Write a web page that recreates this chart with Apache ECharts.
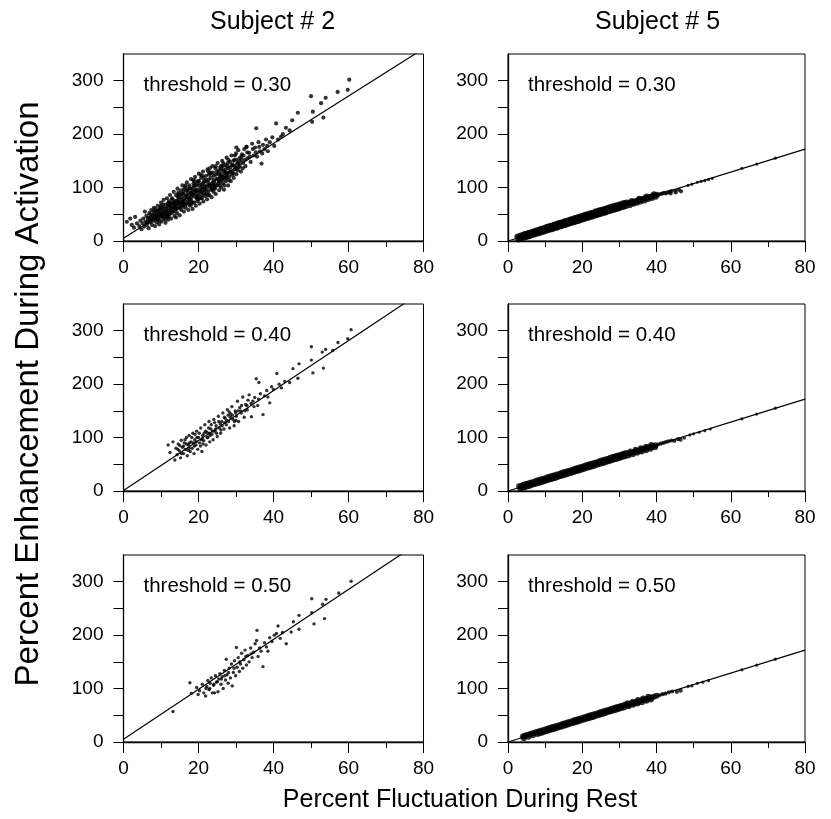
<!DOCTYPE html>
<html>
<head>
<meta charset="utf-8">
<script src="https://cdn.jsdelivr.net/npm/echarts@6/dist/echarts.min.js"></script>
<style>html,body{margin:0;padding:0;background:#fff;}#c{width:831px;height:819px;}</style>
</head>
<body>
<div id="c"></div>
<script>
// ---------- tick labels ----------
const xTicks = [0, 20, 40, 60, 80];
const yTicks = [0, 100, 200, 300];
const colTitles = ['Subject # 2', 'Subject # 5'];
const rowLabels = ['threshold = 0.30', 'threshold = 0.40', 'threshold = 0.50'];
const xTitle = 'Percent Fluctuation During Rest';
const yTitle = 'Percent Enhancement During Activation';

// ---------- Subject #2 data ----------
const s2t30 = [
[0.9,36],[2.2,30],[3.1,45],[5.7,55],[1.8,42],[2.8,25],[3.6,33],
[4.2,28],[4.5,38],[4.8,22],[5.1,33],[5.3,42],[5.5,27],[5.9,36],[6.1,47],[6.2,30],[6.5,40],[6.7,24],[6.9,52],
[7.1,35],[7.3,44],[7.4,58],[7.6,30],[7.8,48],[8.0,38],[8.1,62],[8.3,43],[8.4,28],[8.6,55],[8.8,35],[8.9,48],[9.1,66],[9.2,40],[9.4,52],[9.5,31],[9.7,60],[9.9,45],
[10.0,72],[10.1,36],[10.3,55],[10.4,64],[10.6,42],[10.7,77],[10.9,50],[11.0,60],[11.2,34],[11.3,68],[11.5,47],[11.6,80],[11.7,56],[11.9,40],[12.0,63],[12.1,74],[12.3,50],[12.4,86],[12.6,58],[12.7,42],[12.9,70],
[13.0,80],[13.1,54],[13.3,64],[13.4,92],[13.6,47],[13.7,75],[13.9,60],[14.0,86],[14.1,68],[14.3,52],[14.4,98],[14.6,78],[14.7,63],[14.9,88],[15.0,48],[15.1,72],[15.3,95],[15.4,58],[15.6,82],[15.7,104],[15.9,67],
[16.0,90],[16.1,55],[16.3,76],[16.4,100],[16.6,62],[16.7,85],[16.9,110],[17.0,70],[17.1,94],[17.3,58],[17.4,80],[17.6,104],[17.7,66],[17.9,90],[18.0,116],[18.1,75],[18.3,98],[18.4,60],[18.6,85],[18.7,108],[18.9,72],
[19.0,95],[19.1,120],[19.3,66],[19.4,82],[19.6,104],[19.7,75],[19.9,112],[20.0,90],[20.1,126],[20.3,70],[20.4,98],[20.6,80],[20.7,118],[20.9,106],[21.0,86],[21.2,130],[21.3,74],[21.5,96],[21.6,112],[21.8,84],
[22.0,122],[22.1,102],[22.3,78],[22.4,134],[22.6,92],[22.7,115],[22.9,86],[23.0,106],[23.2,128],[23.4,96],[23.5,82],[23.7,140],[23.8,110],[24.0,92],[24.1,122],[24.3,100],[24.5,136],[24.6,88],[24.8,116],
[25.0,104],[25.1,146],[25.3,126],[25.5,95],[25.6,112],[25.8,138],[26.0,100],[26.1,122],[26.3,150],[26.5,108],[26.6,132],[26.8,96],[27.0,118],[27.1,142],[27.3,112],[27.5,156],[27.7,126],[27.9,104],
[28.0,136],[28.2,120],[28.4,148],[28.6,112],[28.8,160],[29.0,130],[29.2,142],[29.4,118],[29.6,152],[29.8,134],[30.0,164],[30.1,125],[30.3,145],[30.6,170],[30.8,138],[31.0,155],
[31.3,130],[31.6,162],[31.9,146],[32.2,172],[32.5,140],[32.8,176],[33.1,155],[33.5,165],[33.9,148],[34.3,182],[34.7,160],[35.1,175],[35.4,211],[35.6,158],[36.0,185],[36.4,168],[36.8,145],[37.2,180],[37.6,172],[38.0,190],[38.5,168],[39.0,185],[39.7,194],[40.2,178],[40.7,220],[41.2,190],[42.0,195],[42.5,200],[43.3,212],[44.3,207],[45.0,226],[46.5,240],
[50.0,271],[60.2,302],[59.8,283],[57.1,279],[53.9,268],[52.7,258],[50.5,242],[53.3,231],[50.3,223],[30.1,175],[32.8,176],
[6.4,34],[7.0,40],[7.7,44],[8.2,50],[8.7,42],[9.0,56],[9.3,46],[9.6,38],[10.2,50],[10.5,58],[10.8,46],[11.1,54],[11.4,62],[11.8,50],[12.2,57],[12.5,68],[12.8,62],[13.2,58],[13.5,70],[13.8,66],[14.2,60],[14.5,74],[14.8,82],[15.2,66],[15.5,77],[15.8,88],[16.2,70],[16.5,82],[16.8,94],[17.2,75],[17.5,88],[17.8,98],[18.2,82],[18.5,92],[18.8,102],[19.2,88],[19.5,96],[19.8,108],[20.2,84],[20.5,104],[20.8,92],[21.1,100],[21.4,118],[21.7,104],[22.2,96],[22.5,110],[22.8,124],[23.1,100],[23.3,118],[23.6,104],[23.9,128],[24.2,110],[24.4,98],[24.7,124],[25.2,116],[25.4,132],[25.7,104],[25.9,126],[26.2,114],[26.4,140],[26.7,120],[26.9,128],[27.2,134],[27.4,118],[27.8,146],[28.1,128],[28.5,138],[28.9,124],[29.3,150],[29.7,140],[30.2,152],[30.5,132],[30.9,148],[31.4,158],[31.8,136],[32.4,152],[33.0,166],[33.7,158],[34.5,172],[35.3,166],[36.2,176],[37.0,164],[38.3,178],[14.0,44],[16.0,64],[18.0,68],[12.0,46],[20.0,78],[22.0,88],[24.0,104],[26.0,140],[28.0,152],[10.0,66],[8.5,60],[19.0,112],[21.0,122],[23.0,136],
[6.6,44],[7.2,50],[7.5,38],[8.0,55],[8.6,48],[9.0,40],[9.4,58],[9.8,52],[10.3,46],[10.6,68],[11.0,40],[11.4,52],[11.8,70],[12.2,66],[12.6,52],[12.9,78],[13.3,72],[13.7,56],[14.0,74],[14.4,84],[14.8,70],[15.1,62],[15.4,88],[15.8,74],[16.1,96],[16.5,68],[16.9,86],[17.3,98],[17.7,78],[18.1,90],[18.5,72],[18.9,104],[19.3,94],[19.7,84],[20.1,112],[20.5,92],[20.9,80],[21.3,110],[21.7,96],[22.1,114],[22.5,86],[22.9,104],[23.3,126],[23.7,96],[24.1,114],[24.5,104],[24.9,130],[25.3,108],[25.7,120],[26.1,134],[26.5,116],[26.9,104],[27.3,128],[27.7,140],[28.1,114],[28.5,130],[28.9,142],[29.3,126],[29.7,160],[30.1,136],[30.5,146],[31.0,140],[31.5,152],[32.0,160],[11.6,44],[13.5,62],[15.6,70],[17.5,72],[19.5,80],[21.5,90],[23.5,102],[25.5,112],[27.5,122],[9.9,62],[12.3,72],[14.6,90],[16.6,104],[18.6,114],[20.6,124],[22.6,130],[24.6,140],[26.6,146]
];
const s2t40 = [
[11.9,86],[12.4,72],[13.7,58],[13.2,92],[14.0,80],[14.3,68],[14.6,88],[14.9,75],[15.2,62],[15.4,95],[15.7,82],[16.0,70],[16.2,90],[16.5,78],[16.8,100],[17.0,66],[17.3,86],[17.5,104],[17.8,74],[18.0,92],[18.3,80],[18.5,108],[18.8,70],[19.0,96],[19.3,86],[19.5,112],[19.8,78],[20.0,100],[20.3,90],[20.6,118],[20.9,74],[21.1,104],[21.4,94],[21.7,124],[22.0,86],[22.2,110],[22.5,100],[22.8,130],[23.0,92],[23.3,116],[23.6,106],[23.9,96],[24.1,134],[24.4,112],[24.7,122],[25.0,102],[25.3,140],[25.6,118],[25.9,108],[26.2,130],[26.5,146],[26.8,116],[27.1,136],[27.4,124],[27.7,152],[28.0,130],[28.3,118],[28.6,144],[28.9,158],[29.2,134],[29.5,122],[29.8,150],[30.1,140],[30.4,168],[30.7,130],[31.0,156],[31.4,146],[31.8,176],[32.2,138],[32.6,162],[33.0,152],[33.5,180],[34.1,139],[34.5,168],[35.0,175],[35.4,210],[35.8,160],[36.1,203],[36.5,182],[37.2,143],[37.6,178],[38.2,188],[39.0,165],[39.5,195],[40.0,190],[40.9,220],[41.5,200],[42.1,193],[43.0,205],[44.3,203],[45.2,229],[46.5,211],[46.8,238],[50.1,270],[50.1,245],[50.5,221],[53.0,260],[53.3,230],[53.9,265],[55.8,263],[57.2,278],[59.8,285],[60.7,302],
[15.0,85],[16.4,96],[17.6,90],[18.9,84],[19.6,100],[20.8,96],[21.9,112],[23.1,104],[24.6,116],[25.8,126],[27.0,128],[28.5,138],[29.9,146],[31.2,150],[32.9,160],[34.0,164],[17.2,76],[19.1,106],[21.2,88],[22.7,118],[24.3,128],[26.0,114],[27.9,142],[30.0,132],
[14.5,78],[15.5,70],[16.0,84],[16.8,88],[17.5,80],[18.2,100],[18.6,90],[19.4,92],[20.2,108],[20.5,84],[21.0,98],[21.5,108],[22.3,100],[22.9,108],[23.4,124],[23.8,112],[24.8,108],[25.4,130],[26.3,122],[26.9,138],[27.5,132],[28.2,148],[29.0,142],[29.6,130],[30.5,150],[31.5,160],[32.4,150],[33.2,170],[34.8,158],[36.0,172],[38.5,176]
];
const s2t50 = [
[13.2,57],[17.7,111],[18.1,91],[19.9,89],[19.5,102],[20.3,96],[21.0,108],[21.4,92],[21.9,86],[22.2,104],[22.5,115],[22.8,98],[23.1,110],[23.4,120],[23.7,92],[24.0,106],[24.3,92],[24.5,124],[24.8,112],[25.2,94],[25.4,118],[25.7,128],[26.0,108],[26.3,122],[26.6,100],[26.9,134],[27.2,116],[27.4,155],[27.6,126],[27.9,110],[28.2,138],[28.5,120],[28.8,146],[29.0,105],[29.3,130],[29.6,152],[29.9,124],[30.1,177],[30.3,140],[30.6,158],[30.9,132],[31.2,146],[31.5,166],[31.8,138],[32.1,154],[32.4,172],[32.8,144],[33.1,162],[33.5,150],[33.9,176],[34.3,158],[34.7,168],[35.1,184],[35.5,190],[35.6,209],[35.9,160],[36.3,176],[36.7,170],[37.2,141],[37.6,186],[38.1,178],[38.5,170],[39.0,195],[39.6,188],[40.2,200],[40.8,203],[41.2,217],[41.8,194],[42.4,205],[43.4,184],[44.7,206],[45.3,225],[46.8,211],[46.8,237],[50.2,268],[50.2,242],[50.8,221],[53.1,258],[54.0,267],[53.6,231],[57.4,279],[60.7,301],
[23.0,100],[25.0,113],[27.0,124],[28.0,130],[29.5,138],[31.0,150],[32.6,160],[34.0,165],[26.1,118],[24.1,108],[22.0,100]
];

// ---------- Subject #5 data ----------
const s5t30 = [
[2.5,8],[3,9],[3.5,10.5],[4,11],[4.5,13],[5,13.5],[5.5,15],[6,15.5],[6.5,17.5],[7,18],[7.5,19.5],[8,20],[8.5,21.5],[9,23],[9.5,23.5],[10,25],[10.5,26.5],[11,27],[11.5,28.5],[12,29],[12.5,31],[13,31.5],[13.5,33],[14,34],[14.5,34.5],[15,36],[15.5,37.5],[16,38],[16.5,39.5],[17,40.5],[17.5,41],[18,43],[18.5,43.5],[19,45],[19.5,46],[20,47],[20.5,48],[21,49.5],[21.5,50],[22,51.5],[22.5,52.5],[23,53],[23.5,55],[24,55.5],[24.5,57],[25,58],[25.5,58.5],[26,60],[26.5,61],[27,62],[27.5,63],[28,64.5],[28.5,65],[29,66.5],[29.5,67],[30,68.5],[30.5,69],[31,70.5],[31.5,71],[32,72],
[2.8,3],[3.3,4.5],[3.8,5],[4.3,6.5],[4.8,7],[5.3,8.5],[5.8,9],[6.3,11],[6.8,11.5],[7.3,12.5],[7.8,14],[8.3,14.5],[8.8,16],[9.3,17],[9.8,18],[10.3,19.5],[10.8,20],[11.3,21.5],[11.8,22],[12.3,23.5],[12.8,24.5],[13.3,25.5],[13.8,27],[14.3,27.5],[14.8,29],[15.3,30],[15.8,31],[16.3,32.5],[16.8,33],[17.3,34.5],[17.8,35],[18.3,36.5],[18.8,37.5],[19.3,38.5],[19.8,40],[20.3,40.5],[20.8,42],[21.3,43],[21.8,44],[22.3,45.5],[22.8,46],[23.3,47.5],[23.8,48],[24.3,49.5],[24.8,50.5],[25.3,51.5],[25.8,53],[26.3,53.5],[26.8,55],[27.3,56],[27.8,57],[28.3,58.5],[28.8,59],[29.3,60.5],[29.8,61],[30.3,62.5],[30.8,63.5],[31.3,64.5],[31.8,65.5],
[32.8,67],[33.8,69.5],[34.8,71.5],[35.8,74],[36.8,76],[37.8,78.5],[38.8,80.5],[39.8,83],[33.3,75],[35.3,79],[37.3,83.5],[39.3,87.5],
[32.5,70],[33,71.5],[33.5,72],[34,74],[34.5,74.5],[35,76],[35.5,77],[36,78],[36.5,79],[37,80.5],[37.5,81],[38,82.5],[38.5,83],[39,84.5],[39.5,85],[40,86.5],[40.5,86],[41,88],[41.5,88.5],[42,90],[42.5,89],[43,91],[43.5,92],[44,93.5],[45,94],[46,96],[43.8,89],[45.2,91],[46.6,93],
[48.5,104],[49.5,106],[51,110],[52,111.5],[53,113],[54,115],[55,117],[63,136],[67,144],[72,155]
];
const s5t40 = [
[3.0,9],[3.6,10],[4.2,11.5],[4.8,13],[5.4,14],[6.0,15.5],[6.6,16.5],[7.2,18],[7.8,19.5],[8.4,20.5],[9.0,22],[9.6,23],[10.2,24.5],[10.8,26],[11.4,27],[12.0,28.5],[12.6,29.5],[13.2,31],[13.8,32],[14.4,33.5],[15.0,35],[15.6,36],[16.2,37.5],[16.8,38.5],[17.4,40],[18.0,41.5],[18.6,42.5],[19.2,44],[19.8,45],[20.4,46.5],[21.0,48],[21.6,49],[22.2,50.5],[22.8,51.5],[23.4,53],[24.0,54],[24.6,55.5],[25.2,57],[25.8,58],[26.4,59.5],[27.0,60.5],[27.6,62],[28.2,63.5],[28.8,64.5],[29.4,66],[30.0,67],[30.6,68.5],[31.2,69.5],[31.8,71],
[3.3,4.5],[3.9,6],[4.5,7],[5.1,8.5],[5.7,9.5],[6.3,11],[6.9,12.5],[7.5,13.5],[8.1,15],[8.7,16],[9.3,17.5],[9.9,18.5],[10.5,20],[11.1,21.5],[11.7,22.5],[12.3,24],[12.9,25],[13.5,26.5],[14.1,28],[14.7,29],[15.3,30.5],[15.9,31.5],[16.5,33],[17.1,34],[17.7,35.5],[18.3,37],[18.9,38],[19.5,39.5],[20.1,40.5],[20.7,42],[21.3,43.5],[21.9,44.5],[22.5,46],[23.1,47],[23.7,48.5],[24.3,50],[24.9,51],[25.5,52.5],[26.1,53.5],[26.7,55],[27.3,56],[27.9,57.5],[28.5,59],[29.1,60],[29.7,61.5],[30.3,62.5],[30.9,64],[31.5,65],
[32.4,66.5],[33.6,69],[34.8,71.5],[36.0,74],[37.2,76.5],[38.4,79],[39.6,82],[33.0,74],[34.4,77],[35.8,80],[37.2,83],[38.6,86],
[32.7,70],[33.4,71.5],[34.1,73.5],[34.8,75],[35.5,76.5],[36.2,78],[36.9,79.5],[37.6,81],[38.3,82.5],[39.0,84],[39.7,85.5],[40.4,87],[41.1,88.5],[41.8,90],[42.5,91.5],[43.2,93],[44.0,94.5],[44.8,94],[45.8,97],[46.5,96],[47.5,99],
[49,105],[50,107],[51.5,110],[53,113],[54.5,116],[63,135],[67,144],[72,155]
];
const s5t50 = [
[4.0,10.5],[4.6,12],[5.2,13],[5.8,14.5],[6.4,16],[7.0,17],[7.6,18.5],[8.2,19.5],[8.8,21],[9.4,22],[10.0,23.5],[10.6,25],[11.2,26],[11.8,27.5],[12.4,28.5],[13.0,30],[13.6,31],[14.2,32.5],[14.8,34],[15.4,35],[16.0,36.5],[16.6,37.5],[17.2,39],[17.8,40.5],[18.4,41.5],[19.0,43],[19.6,44],[20.2,45.5],[20.8,47],[21.4,48],[22.0,49.5],[22.6,50.5],[23.2,52],[23.8,53],[24.4,54.5],[25.0,56],[25.6,57],[26.2,58.5],[26.8,59.5],[27.4,61],[28.0,62],[28.6,63.5],[29.2,65],[29.8,66],[30.4,67.5],[31.0,68.5],[31.6,70],
[4.3,7],[5.5,10],[6.7,12.5],[7.9,15],[8.5,16.5],[9.1,17.5],[9.7,19],[10.3,20],[10.9,21.5],[11.5,23],[12.1,24],[12.7,25.5],[13.3,26.5],[13.9,28],[14.5,29],[15.1,30.5],[15.7,32],[16.3,33],[16.9,34.5],[17.5,35.5],[18.1,37],[18.7,38],[19.3,39.5],[19.9,41],[20.5,42],[21.1,43.5],[21.7,44.5],[22.3,46],[22.9,47],[23.5,48.5],[24.1,50],[24.7,51],[25.3,52.5],[25.9,53.5],[26.5,55],[27.1,56.5],[27.7,57.5],[28.3,59],[28.9,60],[29.5,61.5],[30.1,62.5],[30.7,64],
[31.3,64.5],[32.5,67],[33.7,69.5],[34.9,72],[36.1,74.5],[37.3,77],[38.5,79.5],[32.2,72.5],[33.6,75.5],[35.0,78.5],[36.4,81.5],[37.8,84.5],
[32.3,69],[33.0,71.5],[33.7,72.5],[34.4,74.5],[35.1,75.5],[35.8,77.5],[36.5,78.5],[37.2,80.5],[37.9,81.5],[38.6,83.5],[39.3,84.5],[40.0,86.5],[40.8,87.5],[41.6,89.5],[42.4,90.5],[43.3,93],[44.2,94.5],[45.5,94],[46.5,96],
[48.5,104],[49.5,105],[51,110],[52.5,112],[54,115],[63,135],[67,144],[72,155]
];

// ---------- regression lines (end points in data units) ----------
const fitS2t30 = [[0,5],[80,360]];
const fitS2t40 = [[0,1],[80,375]];
const fitS2t50 = [[0,5],[80,379]];
const fitS5t30 = [[0,0],[80,172]];
const fitS5t40 = [[0,0],[80,172]];
const fitS5t50 = [[0,0],[80,172]];

// ---------- layout ----------
const FONT = "'Liberation Sans', Arial, Helvetica, sans-serif";
const gridTops = [54, 304, 555];
const gridH = 187;
const gridLefts = [123.5, 508];
const gridWs = [300, 297];
// dense band drawn with bigger dots, thinning and isolated tail points smaller
const s5Size = v => (v[0] > 47 ? 3.2 : (v[0] > 40 ? 4.2 : 6));

const panels = [
  {row:0,col:0,data:s2t30,fit:fitS2t30,size:4.2},
  {row:1,col:0,data:s2t40,fit:fitS2t40,size:3.4},
  {row:2,col:0,data:s2t50,fit:fitS2t50,size:3.4},
  {row:0,col:1,data:s5t30,fit:fitS5t30,size:s5Size},
  {row:1,col:1,data:s5t40,fit:fitS5t40,size:s5Size},
  {row:2,col:1,data:s5t50,fit:fitS5t50,size:s5Size}
];

const grid=[], xAxis=[], yAxis=[], series=[], graphic=[];
panels.forEach((p,i)=>{
  grid.push({left:gridLefts[p.col], top:gridTops[p.row], width:gridWs[p.col], height:gridH,
    show:true, borderColor:'#000', borderWidth:1, backgroundColor:'transparent'});
  xAxis.push({gridIndex:i, type:'value', min:xTicks[0], max:xTicks[xTicks.length-1], interval:20,
    axisLine:{show:true, onZero:false, lineStyle:{color:'#000', width:1.3}},
    axisTick:{show:true, length:11, lineStyle:{color:'#000', width:1}},
    minorTick:{show:true, splitNumber:2, length:6, lineStyle:{color:'#000', width:1}},
    splitLine:{show:false}, minorSplitLine:{show:false},
    axisLabel:{color:'#000', fontSize:19, fontFamily:FONT, margin:17,
      formatter:v=>xTicks.indexOf(v)>=0?String(v):''}});
  yAxis.push({gridIndex:i, type:'value', min:0, max:350, interval:50,
    axisLine:{show:true, onZero:false, lineStyle:{color:'#000', width:1.3}},
    axisTick:{show:true, length:10, lineStyle:{color:'#000', width:1}},
    splitLine:{show:false},
    axisLabel:{color:'#000', fontSize:19, fontFamily:FONT, margin:20, showMaxLabel:false,
      formatter:v=>yTicks.indexOf(v)>=0?String(v):''}});
  series.push({type:'scatter', xAxisIndex:i, yAxisIndex:i, data:p.data, symbol:'circle',
    symbolSize:p.size, itemStyle:{color:'#000'}, silent:true, animation:false});
  series.push({type:'line', xAxisIndex:i, yAxisIndex:i, data:p.fit, symbol:'none', clip:true,
    lineStyle:{color:'#000', width:1.2}, silent:true, animation:false});
  graphic.push({type:'text', left:gridLefts[p.col]+20, top:gridTops[p.row]+21,
    style:{text:rowLabels[p.row], font:'20.5px '+FONT, fill:'#000'}});
});

graphic.push({type:'text', x:gridLefts[0]+gridWs[0]/2-1, y:22,
  style:{text:colTitles[0], font:'25px '+FONT, fill:'#000', textAlign:'center', textVerticalAlign:'middle'}});
graphic.push({type:'text', x:gridLefts[1]+gridWs[1]/2+1, y:22,
  style:{text:colTitles[1], font:'25px '+FONT, fill:'#000', textAlign:'center', textVerticalAlign:'middle'}});
graphic.push({type:'text', x:460, y:800,
  style:{text:xTitle, font:'25px '+FONT, fill:'#000', textAlign:'center', textVerticalAlign:'middle'}});
graphic.push({type:'text', x:29, y:394, rotation:Math.PI/2,
  style:{text:yTitle, font:'33px '+FONT, fill:'#000', textAlign:'center', textVerticalAlign:'middle'}});

const chart = echarts.init(document.getElementById('c'), null, {renderer:'canvas'});
chart.setOption({backgroundColor:'#fff', animation:false, grid, xAxis, yAxis, series, graphic});
</script>
</body>
</html>
